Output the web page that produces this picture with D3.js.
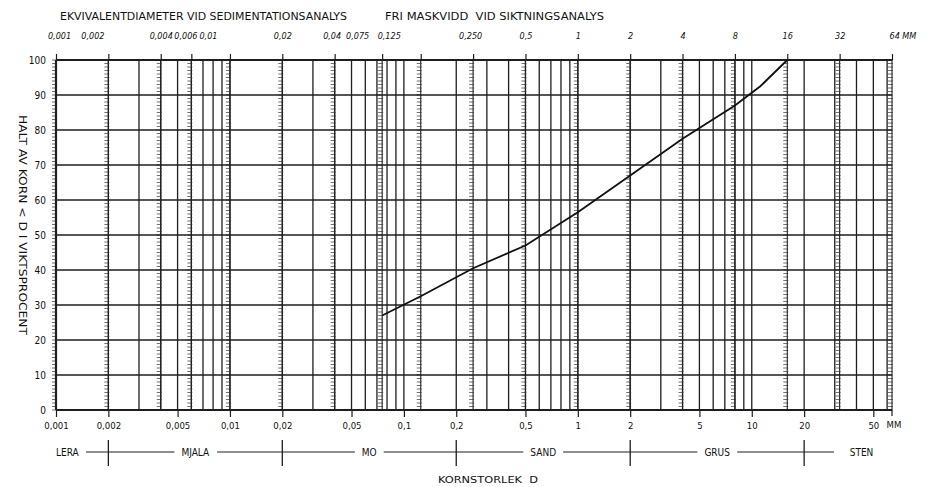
<!DOCTYPE html>
<html lang="sv">
<head>
<meta charset="utf-8">
<title>Kornfördelning</title>
<script src="https://cdn.jsdelivr.net/npm/d3@7"></script>
<style>
  body { margin: 0; background: #fff; }
  svg { display: block; }
  text { font-family: "DejaVu Sans Condensed", "Liberation Sans Narrow", sans-serif; fill: #111; }
</style>
</head>
<body>
<div id="chart"></div>
<script>
// sieve curve (mm, % passing)
var sieveSize = [0.075, 0.125, 0.25, 0.5, 1, 2, 4, 8, 11.2, 16];
var passing   = [27, 32.5, 40.5, 47, 56.5, 67, 77.5, 87, 92.5, 100];

// top axis: sieve / sedimentation sizes
var topValues = [0.001, 0.002, 0.004, 0.006, 0.01, 0.02, 0.04, 0.075, 0.125, 0.25, 0.5, 1, 2, 4, 8, 16, 32, 64];
var topLabels = ["0,001", "0,002", "0,004", "0,006", "0,01", "0,02", "0,04", "0,075", "0,125", "0,250", "0,5", "1", "2", "4", "8", "16", "32", "64 MM"];

// bottom axis
var bottomValues = [0.001, 0.002, 0.005, 0.01, 0.02, 0.05, 0.1, 0.2, 0.5, 1, 2, 5, 10, 20, 50];
var bottomLabels = ["0,001", "0,002", "0,005", "0,01", "0,02", "0,05", "0,1", "0,2", "0,5", "1", "2", "5", "10", "20", "50"];

// soil fractions
var zoneNames = ["LERA", "MJALA", "MO", "SAND", "GRUS", "STEN"];
var zoneBounds = [0.002, 0.02, 0.2, 2, 20];

var width = 937, height = 487;

var svg = d3.select("#chart").append("svg")
  .attr("width", width)
  .attr("height", height);

var x = d3.scaleLog().domain([0.001, 64]).range([56, 892]);
var y = d3.scaleLinear().domain([0, 100]).range([410, 60]);

var ink = "#1e1e1e";

// vertical grid, 1..9 per decade
svg.append("g").selectAll("line")
  .data(x.ticks())
  .enter().append("line")
  .attr("x1", function(d) { return x(d); })
  .attr("x2", function(d) { return x(d); })
  .attr("y1", y(0)).attr("y2", y(100))
  .attr("stroke", ink).attr("stroke-width", 1.3);

// hatched lines at sieve sizes
var hatch = svg.append("g");
topValues.forEach(function(v) {
  hatch.append("line")
    .attr("x1", x(v)).attr("x2", x(v))
    .attr("y1", y(0)).attr("y2", y(100))
    .attr("stroke", ink).attr("stroke-width", 1.1);
  hatch.selectAll(null)
    .data(y.ticks(100))
    .enter().append("line")
    .attr("x1", x(v) - 4).attr("x2", x(v) + 1)
    .attr("y1", function(d) { return y(d); })
    .attr("y2", function(d) { return y(d); })
    .attr("stroke", "#333").attr("stroke-width", 0.7);
});

// horizontal grid
svg.append("g").selectAll("line")
  .data(y.ticks(10))
  .enter().append("line")
  .attr("x1", x(0.001)).attr("x2", x(64))
  .attr("y1", function(d) { return y(d); })
  .attr("y2", function(d) { return y(d); })
  .attr("stroke", ink)
  .attr("stroke-width", function(d) { return (d === 0 || d === 100) ? 2.2 : 1.5; });

// left border
svg.append("line")
  .attr("x1", x(0.001)).attr("x2", x(0.001))
  .attr("y1", y(0)).attr("y2", y(100))
  .attr("stroke", ink).attr("stroke-width", 2.2);

// curve
var line = d3.line()
  .x(function(d, i) { return x(sieveSize[i]); })
  .y(function(d) { return y(d); });

svg.append("path")
  .datum(passing)
  .attr("d", line)
  .attr("fill", "none")
  .attr("stroke", "#111")
  .attr("stroke-width", 1.8);

// top axis (crowded labels moved left like on the printed form)
var nudge = {"0,001": 3, "0,002": -16, "0,006": -6, "0,01": -22, "0,04": -3, "0,075": -25, "0,125": -32, "0,250": -3};
var topAxis = d3.axisTop(x)
  .tickValues(topValues)
  .tickFormat(function(d, i) { return topLabels[i]; })
  .tickSize(6)
  .tickPadding(15);

var gTop = svg.append("g")
  .attr("transform", "translate(0," + y(100) + ")")
  .call(topAxis);
gTop.select(".domain").remove();
gTop.selectAll(".tick line").attr("stroke", ink).attr("stroke-width", 1.2);
gTop.selectAll(".tick text")
  .style("font-size", "9px")
  .style("font-style", "italic")
  .attr("fill", "#111")
  .attr("dx", function(d, i) { return nudge[topLabels[i]] || 0; })
  .attr("text-anchor", function(d, i) { return i === topLabels.length - 1 ? "start" : "middle"; })
  .attr("x", function(d, i) { return i === topLabels.length - 1 ? -3 : 0; });

// bottom axis
var bottomAxis = d3.axisBottom(x)
  .tickValues(bottomValues)
  .tickFormat(function(d, i) { return bottomLabels[i]; })
  .tickSize(7)
  .tickPadding(5);

var gBottom = svg.append("g")
  .attr("transform", "translate(0," + y(0) + ")")
  .call(bottomAxis);
gBottom.select(".domain").remove();
gBottom.selectAll(".tick line").attr("stroke", ink).attr("stroke-width", 1.2);
gBottom.selectAll(".tick text").style("font-size", "9.5px").attr("fill", "#111");

svg.append("line")
  .attr("x1", x(64)).attr("x2", x(64))
  .attr("y1", y(0)).attr("y2", y(0) + 6)
  .attr("stroke", ink).attr("stroke-width", 1.2);
svg.append("text")
  .attr("x", x(64) + 2).attr("y", 428)
  .attr("text-anchor", "middle")
  .style("font-size", "9.5px")
  .text("MM");

// y axis labels
var yAxis = d3.axisLeft(y).ticks(10).tickSize(0).tickPadding(10);
var gY = svg.append("g")
  .attr("transform", "translate(" + x(0.001) + ",0)")
  .call(yAxis);
gY.select(".domain").remove();
gY.selectAll(".tick text").style("font-size", "10px").attr("fill", "#111");

// titles
svg.append("text")
  .attr("x", 60).attr("y", 20)
  .attr("textLength", 287).attr("lengthAdjust", "spacingAndGlyphs")
  .style("font-size", "10px")
  .text("EKVIVALENTDIAMETER VID SEDIMENTATIONSANALYS");

svg.append("text")
  .attr("x", 385).attr("y", 20)
  .attr("textLength", 219).attr("lengthAdjust", "spacingAndGlyphs")
  .style("font-size", "10px")
  .style("white-space", "pre")
  .text("FRI MASKVIDD  VID SIKTNINGSANALYS");

svg.append("text")
  .attr("transform", "translate(19,225) rotate(90)")
  .attr("text-anchor", "middle")
  .attr("textLength", 220).attr("lengthAdjust", "spacingAndGlyphs")
  .style("font-size", "10px")
  .text("HALT AV KORN < D I VIKTSPROCENT");

svg.append("text")
  .attr("x", 438).attr("y", 483)
  .attr("textLength", 100).attr("lengthAdjust", "spacingAndGlyphs")
  .style("font-size", "9.5px")
  .style("white-space", "pre")
  .text("KORNSTORLEK  D");

// soil fraction row
var zoneY = 452;
var zones = svg.append("g");

zones.append("line")
  .attr("x1", 86).attr("x2", 834)
  .attr("y1", zoneY).attr("y2", zoneY)
  .attr("stroke", ink).attr("stroke-width", 1);

zones.selectAll(".zb")
  .data(zoneBounds)
  .enter().append("line")
  .attr("class", "zb")
  .attr("x1", function(d) { return x(d); })
  .attr("x2", function(d) { return x(d); })
  .attr("y1", zoneY - 12).attr("y2", zoneY + 14)
  .attr("stroke", ink).attr("stroke-width", 1.3);

var edges = [0.001].concat(zoneBounds).concat([64]);
zoneNames.forEach(function(name, i) {
  var cx = Math.sqrt(edges[i] * edges[i + 1]);
  var anchor = "middle", px = x(cx);
  if (i === 0) { anchor = "start"; px = x(0.001); }
  if (i === zoneNames.length - 1) { anchor = "end"; px = x(50); }
  var t = zones.append("text")
    .attr("x", px).attr("y", zoneY + 4)
    .attr("text-anchor", anchor)
    .style("font-size", "10px")
    .text(name);
  if (i > 0 && i < zoneNames.length - 1) {
    var bb = t.node().getBBox();
    zones.insert("rect", "text")
      .attr("x", bb.x - 7).attr("y", bb.y)
      .attr("width", bb.width + 14).attr("height", bb.height)
      .attr("fill", "#fff");
  }
});
</script>
</body>
</html>
